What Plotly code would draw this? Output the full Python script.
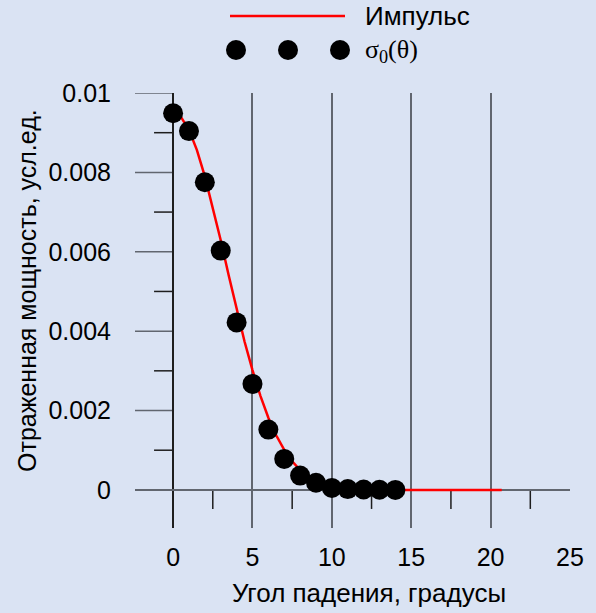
import plotly.graph_objects as go

# Data
angle_pts = [0, 1, 2, 3, 4, 5, 6, 7, 8, 9, 10, 11, 12, 13, 14]
sigma_pts = [0.00949, 0.00904, 0.00775, 0.00603, 0.00422, 0.00267, 0.00152,
             0.00078, 0.00036, 0.00018, 0.00005, 0.00002, 0.00001, 0.000005, 0.0]

angle_curve = [0, 0.5, 1, 1.5, 2, 2.5, 3, 3.5, 4, 4.5, 5, 5.5, 6, 6.5, 7, 7.5,
               8, 8.5, 9, 9.5, 10, 11, 12, 13, 14, 15, 16, 17, 18, 19, 20, 20.7]
pulse_curve = [0.0095, 0.00939, 0.00907, 0.00856, 0.0079, 0.00713, 0.00629, 0.00541,
               0.00455, 0.00374, 0.00302, 0.00237, 0.00182, 0.00137, 0.00101, 0.00072,
               0.0005, 0.00034, 0.00023, 0.00015, 0.0001, 0.00004, 0.00001, 0.0,
               0.0, 0.0, 0.0, 0.0, 0.0, 0.0, 0.0, 0.0]

x_ticks = [0, 5, 10, 15, 20, 25]
x_minor = [2.5, 7.5, 12.5, 17.5, 22.5]
y_ticks = [0, 0.002, 0.004, 0.006, 0.008, 0.01]
y_tick_text = ["0", "0.002", "0.004", "0.006", "0.008", "0.01"]
y_minor = [0.001, 0.003, 0.005, 0.007, 0.009]

x_range = [-2.4, 25]
y_range = [-0.00096, 0.01]

BG = "#dae3f3"
GRID = "#61666f"
DARK = "#1e1e1e"
FONT = "Arial, Liberation Sans, sans-serif"

fig = go.Figure()
fig.add_trace(go.Scatter(x=angle_curve, y=pulse_curve, mode="lines",
                         line=dict(color="#ff0000", width=2.5), showlegend=False,
                         cliponaxis=False))
fig.add_trace(go.Scatter(x=angle_pts, y=sigma_pts, mode="markers",
                         marker=dict(color="black", size=20), showlegend=False,
                         cliponaxis=False))

shapes = []
for v in y_ticks[1:]:
    shapes.append(dict(type="line", xref="x", yref="y", x0=x_range[0], x1=0, y0=v, y1=v,
                       line=dict(color=GRID, width=1.5), layer="below"))
for v in y_minor:
    shapes.append(dict(type="line", xref="x", yref="y", x0=-1.2, x1=0, y0=v, y1=v,
                       line=dict(color=DARK, width=1.5), layer="below"))
for v in x_minor:
    shapes.append(dict(type="line", xref="x", yref="y", x0=v, x1=v, y0=0, y1=-0.00048,
                       line=dict(color=DARK, width=1.5), layer="below"))

# custom legend
px2x = lambda px: (px - 135) / 435
py2y = lambda py: (528 - py) / 435
shapes.append(dict(type="line", xref="paper", yref="paper", x0=px2x(230), x1=px2x(345),
                   y0=py2y(16), y1=py2y(16), line=dict(color="#ff0000", width=2.5)))
for cx in [236, 288, 340]:
    shapes.append(dict(type="circle", xref="paper", yref="paper", xsizemode="pixel",
                       ysizemode="pixel", xanchor=px2x(cx), yanchor=py2y(50),
                       x0=-10, x1=10, y0=-10, y1=10, fillcolor="black",
                       line=dict(color="black", width=0)))

annotations = [
    dict(text="Импульс", xref="paper", yref="paper", x=px2x(363), y=py2y(16),
         xanchor="left", yanchor="middle", showarrow=False,
         font=dict(family=FONT, size=26, color="black")),
    dict(text="σ<sub>0</sub>(θ)", xref="paper", yref="paper", x=px2x(363), y=py2y(51),
         xanchor="left", yanchor="middle", showarrow=False,
         font=dict(family="Times New Roman, Liberation Serif, serif", size=26, color="black")),
    dict(text="Угол падения, градусы", xref="paper", yref="paper", x=px2x(369), y=py2y(593),
         xanchor="center", yanchor="middle", showarrow=False,
         font=dict(family=FONT, size=26, color="black")),
    dict(text="Отраженная мощность, усл.ед.", xref="paper", yref="paper", x=px2x(27),
         y=py2y(291), xanchor="center", yanchor="middle", textangle=-90, showarrow=False,
         font=dict(family=FONT, size=25, color="black")),
]

fig.update_layout(
    width=596, height=613,
    margin=dict(l=135, r=26, t=93, b=85),
    paper_bgcolor=BG, plot_bgcolor=BG,
    showlegend=False,
    shapes=shapes, annotations=annotations,
    xaxis=dict(range=x_range, tickvals=x_ticks, showgrid=True, gridcolor=GRID, gridwidth=1.5,
               zeroline=True, zerolinecolor=DARK, zerolinewidth=1.5, showline=False,
               ticks="outside", ticklen=7, tickcolor="rgba(0,0,0,0)",
               tickfont=dict(family=FONT, size=25, color="black")),
    yaxis=dict(range=y_range, tickvals=y_ticks, ticktext=y_tick_text, showgrid=False,
               zeroline=True, zerolinecolor=GRID, zerolinewidth=1.5, showline=False,
               ticks="outside", ticklen=18, tickcolor="rgba(0,0,0,0)",
               tickfont=dict(family=FONT, size=25, color="black")),
)

fig.write_html("out.html", config={"displayModeBar": False},
               post_script="document.body.style.margin='0';"
                           "document.body.style.background='" + BG + "';")
